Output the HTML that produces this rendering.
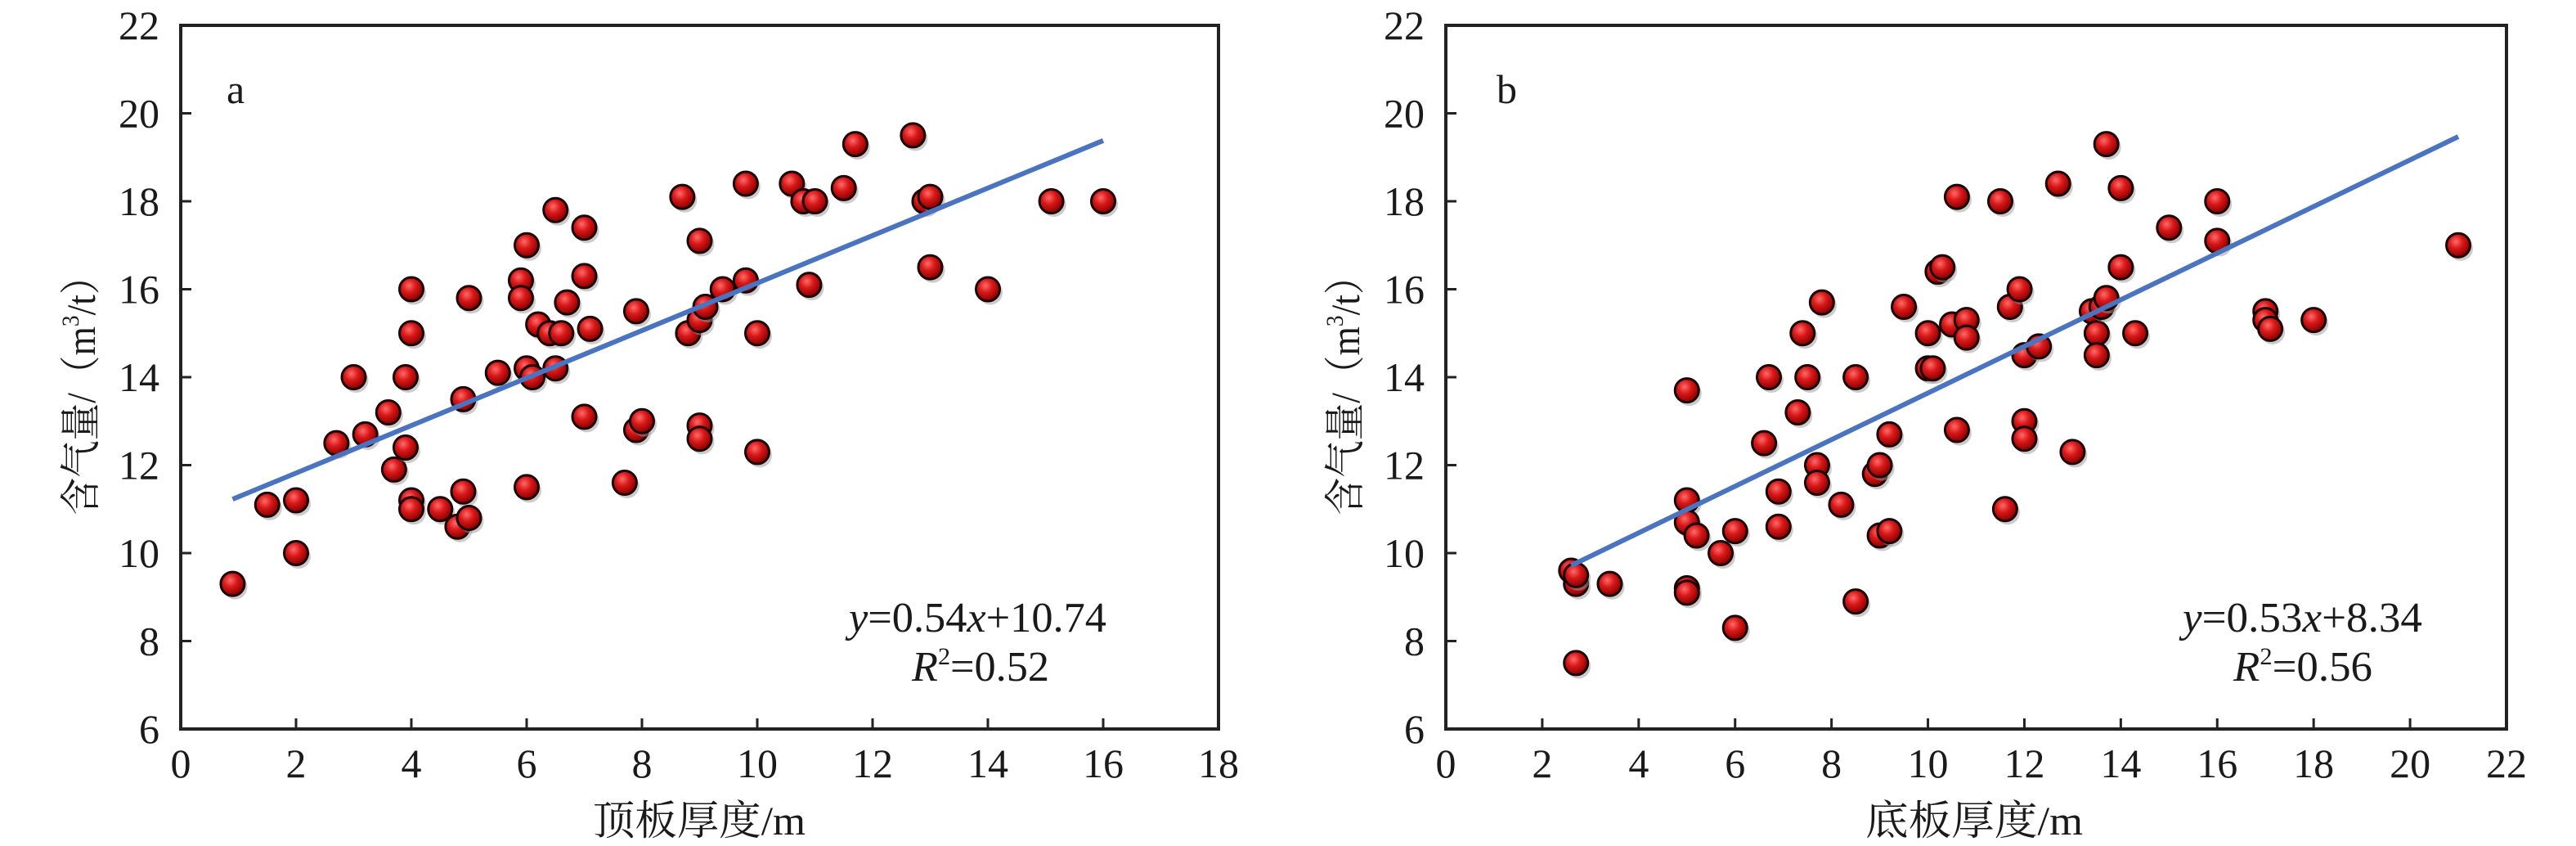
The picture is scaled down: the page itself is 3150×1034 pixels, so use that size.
<!DOCTYPE html>
<html><head><meta charset="utf-8"><style>
html,body{margin:0;padding:0;background:#fff;}
svg{display:block;}
text{font-family:"Liberation Serif","Noto Serif CJK SC",serif;fill:#1a1a1a;}
</style></head><body>
<svg id="s" width="3150" height="1034" viewBox="0 0 3150 1034" xmlns="http://www.w3.org/2000/svg">
<defs>
<radialGradient id="g" cx="0.4" cy="0.35" r="0.65">
<stop offset="0" stop-color="#ff6a6a"/><stop offset="0.45" stop-color="#d81818"/><stop offset="1" stop-color="#8a0000"/>
</radialGradient>
</defs>
<rect x="221" y="31" width="1269" height="860" fill="none" stroke="#222" stroke-width="4"/>
<rect x="1768" y="31" width="1297" height="860" fill="none" stroke="#222" stroke-width="4"/>
<g id="ax"></g>
<g id="pts"></g>
<text x="277" y="126" font-size="50">a</text>
<text x="1830" y="126" font-size="50">b</text>
<g font-size="52">
<text x="1038" y="772" textLength="315" lengthAdjust="spacingAndGlyphs"><tspan font-style="italic">y</tspan>=0.54<tspan font-style="italic">x</tspan>+10.74</text>
<text x="1115" y="832" textLength="168" lengthAdjust="spacingAndGlyphs"><tspan font-style="italic">R</tspan><tspan font-size="30" dy="-20">2</tspan><tspan dy="20">=0.52</tspan></text>
<text x="2669" y="772" textLength="293" lengthAdjust="spacingAndGlyphs"><tspan font-style="italic">y</tspan>=0.53<tspan font-style="italic">x</tspan>+8.34</text>
<text x="2731" y="832" textLength="170" lengthAdjust="spacingAndGlyphs"><tspan font-style="italic">R</tspan><tspan font-size="30" dy="-20">2</tspan><tspan dy="20">=0.56</tspan></text>
</g>
<g font-size="50">
<text x="855" y="1020" text-anchor="middle" textLength="260" lengthAdjust="spacingAndGlyphs">顶板厚度/m</text>
<text x="2414" y="1020" text-anchor="middle" textLength="266" lengthAdjust="spacingAndGlyphs">底板厚度/m</text>
<text transform="translate(116,472) rotate(-90)" text-anchor="middle" textLength="315" lengthAdjust="spacingAndGlyphs">含气量/（m<tspan font-size="30" dy="-20">3</tspan><tspan dy="20">/t）</tspan></text>
<text transform="translate(1662,472) rotate(-90)" text-anchor="middle" textLength="315" lengthAdjust="spacingAndGlyphs">含气量/（m<tspan font-size="30" dy="-20">3</tspan><tspan dy="20">/t）</tspan></text>
</g>
</svg>
<script>
const NS="http://www.w3.org/2000/svg";
function el(p,t,a,txt){const e=document.createElementNS(NS,t);for(const k in a)e.setAttribute(k,a[k]);if(txt!==undefined)e.textContent=txt;p.appendChild(e);return e;}
const ax=document.getElementById('ax'),pts=document.getElementById('pts');
const P=[{l:221,r:1490,xmax:18},{l:1768,r:3065,xmax:22}];
const Y=v=>891-(v-6)*53.75;
P.forEach((p,i)=>{
 const sx=(p.r-p.l)/p.xmax;
 for(let x=0;x<=p.xmax;x+=2){
  const X=p.l+x*sx;
  if(x>0&&x<p.xmax) el(ax,'line',{x1:X,y1:891,x2:X,y2:878,stroke:'#222','stroke-width':3});
  el(ax,'text',{x:X,y:950,'text-anchor':'middle','font-size':50},String(x));
 }
 for(let v=6;v<=22;v+=2){
  const yy=Y(v);
  if(v>6&&v<22) el(ax,'line',{x1:p.l,y1:yy,x2:p.l+13,y2:yy,stroke:'#222','stroke-width':3});
  el(ax,'text',{x:p.l-26,y:yy+17,'text-anchor':'end','font-size':50},String(v));
 }
});
const A=[[0.9,9.3],[1.5,11.1],[2,11.2],[2,10],[2.7,12.5],[3,14],[3.2,12.7],[3.6,13.2],[3.7,11.9],[3.9,14],[3.9,12.4],[4,16],[4,15],[4,11.2],[4,11],[4.5,11],[4.8,10.6],[4.9,11.4],[4.9,13.5],[5,10.8],[5,15.8],[5.5,14.1],[5.9,16.2],[5.9,15.8],[6,17],[6,14.2],[6,11.5],[6.1,14],[6.2,15.2],[6.4,15],[6.5,17.8],[6.5,14.2],[6.6,15],[6.7,15.7],[7,17.4],[7,16.3],[7,13.1],[7.1,15.1],[7.7,11.6],[7.9,15.5],[7.9,12.8],[8,13],[8.7,18.1],[8.8,15],[9,17.1],[9,15.3],[9,12.9],[9,12.6],[9.1,15.6],[9.4,16],[9.8,18.4],[9.8,16.2],[10,15],[10,12.3],[10.6,18.4],[10.8,18],[10.9,16.1],[11,18],[11.5,18.3],[11.7,19.3],[12.7,19.5],[12.9,18],[13,18.1],[13,16.5],[14,16],[15.1,18],[16,18]];
const B=[[2.6,9.6],[2.7,9.3],[2.7,7.5],[2.7,9.5],[3.4,9.3],[5,13.7],[5,11.2],[5,10.7],[5,9.2],[5,9.1],[5.2,10.4],[5.7,10],[6,10.5],[6,8.3],[6.6,12.5],[6.7,14],[6.9,11.4],[6.9,10.6],[7.3,13.2],[7.4,15],[7.5,14],[7.7,12],[7.7,11.6],[7.8,15.7],[8.2,11.1],[8.5,14],[8.5,8.9],[8.9,11.8],[9,12],[9,10.4],[9.2,12.7],[9.2,10.5],[9.5,15.6],[10,15],[10,14.2],[10.1,14.2],[10.2,16.4],[10.3,16.5],[10.5,15.2],[10.6,18.1],[10.6,12.8],[10.8,15.3],[10.8,14.9],[11.5,18],[11.6,11],[11.7,15.6],[11.9,16],[12,14.5],[12,13],[12,12.6],[12.3,14.7],[12.7,18.4],[13,12.3],[13.4,15.5],[13.5,15],[13.5,14.5],[13.6,15.6],[13.7,19.3],[13.7,15.8],[14,18.3],[14,16.5],[14.3,15],[15,17.4],[16,18],[16,17.1],[17,15.5],[17,15.3],[17.1,15.1],[18,15.3],[21,17]];
function draw(data,p){
 const sx=(p.r-p.l)/p.xmax;
 data.forEach(([x,v])=>{
  const cx=p.l+x*sx,cy=Y(v);
  el(pts,'circle',{cx:cx+3,cy:cy+4,r:15,fill:'#999',opacity:0.5});
  el(pts,'circle',{cx:cx,cy:cy,r:14.5,fill:'url(#g)',stroke:'#1a0000','stroke-width':3});
 });
}
draw(A,P[0]);draw(B,P[1]);
function line(p,x0,x1,m,c){const sx=(p.r-p.l)/p.xmax;el(pts,'line',{x1:p.l+x0*sx,y1:Y(m*x0+c),x2:p.l+x1*sx,y2:Y(m*x1+c),stroke:'#4a74c0','stroke-width':6});}
line(P[0],0.9,16,0.54,10.74);line(P[1],2.6,21,0.53,8.34);
</script>
</body></html>
